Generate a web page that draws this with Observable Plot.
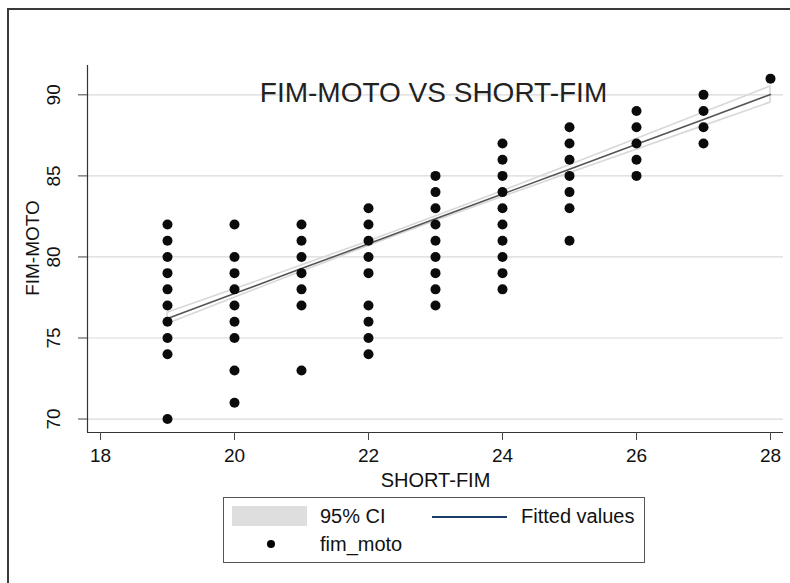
<!DOCTYPE html>
<html>
<head>
<meta charset="utf-8">
<script src="https://cdn.jsdelivr.net/npm/d3@7"></script>
<script src="https://cdn.jsdelivr.net/npm/@observablehq/plot@0.6"></script>
<style>
  html, body { margin: 0; padding: 0; background: #fff; overflow: hidden; }
  #wrap { position: relative; width: 790px; height: 583px; font-family: "Liberation Sans", Arial, sans-serif; }
  #frame { position: absolute; left: 7px; top: 8px; width: 820px; height: 620px; border: 2px solid #3a3a3a; box-sizing: border-box; }
  #chart { position: absolute; left: 0; top: 0; }
  #legend { position: absolute; left: 223px; top: 497px; width: 422px; height: 66px; border: 1px solid #555; box-sizing: border-box; background: #fff; font-size: 20px; color: #111; }
  #legend .sw { position: absolute; }
  #legend .lab { position: absolute; line-height: 20px; white-space: nowrap; }
</style>
</head>
<body>
<div id="wrap">
  <div id="frame"></div>
  <div id="chart"></div>
  <div id="legend"></div>
</div>
<script>
// ---- data ----
const xColumns = [19, 20, 21, 22, 23, 24, 25, 26, 27, 28];
const fimMoto19 = [82, 81, 80, 79, 78, 77, 76, 75, 74, 70];
const fimMoto20 = [82, 80, 79, 78, 77, 76, 75, 73, 71];
const fimMoto21 = [82, 81, 80, 79, 78, 77, 73];
const fimMoto22 = [83, 82, 81, 80, 79, 77, 76, 75, 74];
const fimMoto23 = [85, 84, 83, 82, 81, 80, 79, 78, 77];
const fimMoto24 = [87, 86, 85, 84, 83, 82, 81, 80, 79, 78];
const fimMoto25 = [88, 87, 86, 85, 84, 83, 81];
const fimMoto26 = [89, 88, 87, 86, 85];
const fimMoto27 = [90, 89, 88, 87];
const fimMoto28 = [91];
const fimMotoColumns = [fimMoto19, fimMoto20, fimMoto21, fimMoto22, fimMoto23, fimMoto24, fimMoto25, fimMoto26, fimMoto27, fimMoto28];

// fitted values and 95% CI bounds at each SHORT-FIM value
const fittedValues = [76.21, 77.74, 79.28, 80.81, 82.35, 83.88, 85.41, 86.95, 88.48, 90.02];
const ciLower = [75.87, 77.48, 79.09, 80.67, 82.21, 83.70, 85.16, 86.62, 88.07, 89.52];
const ciUpper = [76.55, 78.00, 79.47, 80.95, 82.49, 84.06, 85.66, 87.28, 88.89, 90.52];

const xTicks = [18, 20, 22, 24, 26, 28];
const yTicks = [70, 75, 80, 85, 90];

const titleText = "FIM-MOTO VS SHORT-FIM";
const xLabel = "SHORT-FIM";
const yLabel = "FIM-MOTO";
const legendLabels = ["95% CI", "Fitted values", "fim_moto"];

// ---- build tables ----
const points = [];
xColumns.forEach((x, i) => fimMotoColumns[i].forEach(y => points.push({x, y})));
const fit = xColumns.map((x, i) => ({x, y: fittedValues[i], lo: ciLower[i], hi: ciUpper[i]}));

const xDomain = [17.806, 28.194];
const yDomain = [69.17, 91.81];

const chart = Plot.plot({
  width: 790,
  height: 583,
  marginLeft: 87,
  marginRight: 7,
  marginTop: 65,
  marginBottom: 151,
  style: {fontFamily: "'Liberation Sans', Arial, sans-serif", fontSize: "19px", background: "transparent", color: "#111", overflow: "visible"},
  x: {domain: xDomain, label: null},
  y: {domain: yDomain, label: null},
  marks: [
    Plot.ruleY(yTicks, {stroke: "#dadada", strokeWidth: 1.2}),
    Plot.ruleX([xDomain[0]], {stroke: "#333", strokeWidth: 1.2}),
    Plot.ruleY([yDomain[0]], {stroke: "#333", strokeWidth: 1.2}),
    Plot.axisY({ticks: yTicks, tickSize: 9, tickFormat: () => "", stroke: "#444", label: null}),
    Plot.axisX({ticks: xTicks, tickSize: 8, tickPadding: 8, fontSize: 19, stroke: "#444", fill: "#111", label: null}),
    Plot.text(yTicks, {y: d => d, text: d => String(d), frameAnchor: "left", textAnchor: "middle", dx: -34, rotate: -90, fontSize: 19, fill: "#111"}),
    Plot.text([yLabel], {text: d => d, frameAnchor: "left", textAnchor: "middle", dx: -55, dy: -1, rotate: -90, fontSize: 19, fill: "#111"}),
    Plot.text([xLabel], {text: d => d, frameAnchor: "bottom", textAnchor: "middle", dy: 54, fontSize: 20, fill: "#111"}),
    Plot.text([titleText], {text: d => d, frameAnchor: "top", textAnchor: "middle", dx: -2, dy: 17, fontSize: 28, fill: "#222"}),
    Plot.areaY(fit, {x: "x", y1: "lo", y2: "hi", fill: "none", stroke: "#d8d8d8", strokeWidth: 1.6}),
    Plot.line(fit, {x: "x", y: "y", stroke: "#555", strokeWidth: 1.6}),
    Plot.dot(points, {x: "x", y: "y", r: 5, fill: "#0b0b0b", stroke: "none"})
  ]
});
document.getElementById("chart").appendChild(chart);

// ---- legend ----
const lg = document.getElementById("legend");
lg.innerHTML = `
  <div class="sw" style="left:8px;top:8px;width:75px;height:20px;background:#dedede"></div>
  <div class="lab" style="left:96px;top:8px">${legendLabels[0]}</div>
  <div class="sw" style="left:208px;top:18px;width:75px;height:2px;background:#1a3d6b"></div>
  <div class="lab" style="left:297px;top:8px">${legendLabels[1]}</div>
  <div class="sw" style="left:43px;top:42px;width:8px;height:8px;border-radius:50%;background:#000"></div>
  <div class="lab" style="left:96px;top:36px">${legendLabels[2]}</div>
`;
</script>
</body>
</html>
